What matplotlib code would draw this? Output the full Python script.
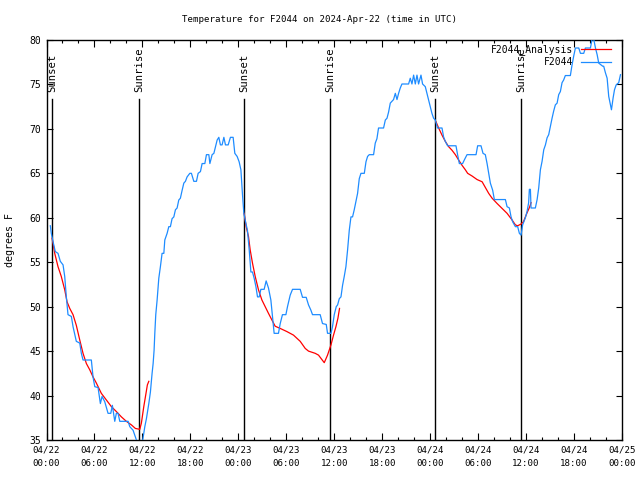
import matplotlib
matplotlib.use("Agg")
import matplotlib.pyplot as plt

# hours since 2024-04-22 00:00 UTC
obs_hours = [0.48, 0.60, 0.82, 1.10, 1.44, 1.73, 2.07, 2.28, 2.48, 2.69, 3.11, 3.32, 3.73, 4.16,
             4.36, 4.57, 5.61, 5.82, 6.04, 6.45, 6.74, 6.95, 7.29, 7.70, 8.04, 8.24, 8.54, 8.74,
             8.95, 9.17, 10.21, 10.42, 10.83, 11.24, 11.44, 11.84, 12.04, 12.30, 12.50, 12.80,
             13.00, 13.21, 13.34, 13.46, 13.55, 13.67, 13.84, 14.05, 14.25, 14.46, 14.68, 14.80,
             15.09, 15.30, 15.50, 15.71, 15.93, 16.13, 16.34, 16.55, 16.75, 16.97, 17.18, 17.38,
             17.59, 17.93, 18.13, 18.43, 18.76, 18.97, 19.26, 19.47, 19.81, 20.01, 20.31, 20.44,
             20.72, 20.94, 21.14, 21.35, 21.56, 21.76, 21.97, 22.19, 22.39, 22.73, 23.01, 23.35,
             23.56, 23.85, 24.10, 24.32, 24.52, 24.69, 24.94, 25.14, 25.36, 25.57, 25.77, 25.98,
             26.20, 26.40, 26.61, 26.82, 27.23, 27.48, 27.77, 28.07, 28.27, 28.48, 29.02, 29.24,
             29.52, 29.95, 30.15, 30.49, 30.78, 31.74, 32.03, 32.49, 32.78, 33.08, 33.28, 34.24,
             34.53, 35.00, 35.16, 35.59, 35.78, 36.00, 36.25, 36.42, 36.63, 36.84, 37.04, 37.25,
             37.46, 37.67, 37.88, 38.09, 38.29, 38.50, 38.71, 38.92, 39.13, 39.34, 39.76, 39.97,
             40.17, 40.38, 40.92, 41.13, 41.34, 41.54, 42.17, 42.39, 42.60, 42.80, 43.01, 43.42,
             43.64, 43.85, 44.05, 44.26, 44.47, 45.30, 45.51, 45.72, 45.93, 46.14, 46.35, 46.55,
             46.85, 47.05, 47.39, 47.60, 47.80, 48.01, 48.22, 48.43, 48.64, 48.92, 49.48, 49.68,
             49.89, 50.18, 51.23, 51.43, 51.65, 52.06, 52.27, 52.61, 53.74, 53.94, 54.36, 54.61,
             54.90, 55.12, 55.32, 55.53, 55.82, 56.03, 57.41, 57.62, 57.91, 58.12, 58.32, 58.66,
             58.95, 59.16, 59.37, 59.57, 59.91, 60.12, 60.32, 60.41, 60.54, 60.62, 61.16, 61.38,
             61.58, 61.79, 62.00, 62.21, 62.42, 62.63, 62.83, 63.04, 63.25, 63.45, 63.66, 63.88,
             64.08, 64.29, 64.50, 64.70, 64.91, 65.54, 65.75, 65.96, 66.17, 66.59, 66.80, 67.21,
             67.42, 68.05, 68.26, 68.46, 68.68, 68.89, 69.09, 69.59, 69.71, 69.93, 70.14, 70.34,
             70.55, 70.68, 70.89, 71.06, 71.27, 71.59, 71.81]
obs_temp = [59.1, 58.25, 57.3, 56.2, 56.0, 55.1, 54.7, 53.4, 51.1, 49.1, 48.9, 47.75, 46.1, 45.9,
            44.75, 44.0, 44.0, 42.1, 41.0, 40.9, 39.1, 39.9, 39.3, 38.0, 38.0, 38.9, 37.1, 38.0,
            38.0, 37.1, 37.1, 36.5, 36.1, 35.0, 34.5, 34.5, 35.0, 36.5, 37.4, 39.1,
            40.4, 42.5, 43.6, 45.1, 47.0, 49.1, 50.75, 53.2, 54.5, 56.0, 56.0, 57.5,
            58.25, 59.0, 59.0, 59.9, 60.1, 60.9, 61.1, 62.0, 62.2, 63.1, 63.9, 64.1,
            64.6, 65.0, 65.0, 64.1, 64.1, 65.0, 65.2, 66.1, 66.1, 67.1, 67.1, 66.1,
            67.1, 67.25, 68.0, 68.75, 69.05, 68.2, 68.2, 69.05, 68.2, 68.2, 69.05, 69.05,
            67.25, 66.9, 66.3, 65.4, 62.6, 60.5, 59.4, 58.6, 56.4, 53.9, 53.9, 53.2,
            52.25, 51.1, 51.1, 51.95, 51.95, 52.9, 52.1, 50.75, 48.9, 47.0, 47.0, 48.1,
            49.1, 49.1, 50.0, 51.3, 51.95, 51.95, 51.05, 51.05, 50.2, 49.6, 49.1, 49.1,
            48.1, 48.0, 47.0, 47.0, 47.75, 49.1, 50.0, 50.2, 50.9, 51.1, 52.4, 53.4,
            54.5, 56.4, 58.6, 60.1, 60.1, 60.9, 61.8, 62.75, 64.4, 65.0, 65.0, 66.3,
            66.9, 67.1, 67.1, 68.4, 68.9, 70.1, 70.1, 71.0, 71.2, 71.9, 72.9, 73.3,
            74.0, 73.3, 74.0, 74.6, 75.05, 75.05, 75.7, 75.05, 76.05, 75.05, 76.05, 75.05,
            76.05, 75.05, 74.75, 74.0, 73.25, 72.5, 71.75, 71.2, 71.0, 70.1, 70.1, 69.1,
            68.6, 68.1, 68.1, 67.1, 66.1, 66.1, 66.5, 67.1, 67.1, 68.1, 68.1, 67.25,
            67.1, 66.1, 65.0, 63.9, 63.1, 62.05, 62.05, 61.25, 61.1, 60.1, 59.55, 59.0,
            59.0, 58.25, 58.05, 59.2, 60.0, 60.7, 61.7, 63.2, 63.2, 61.1, 61.1, 62.05,
            63.35, 65.4, 66.35, 67.65, 68.2, 69.0, 69.35, 70.3, 71.2, 72.0, 72.7, 72.9,
            73.85, 74.2, 75.2, 75.5, 76.0, 76.0, 77.2, 78.2, 79.1, 79.1, 78.5, 78.5,
            79.1, 79.1, 80.1, 80.1, 79.1, 78.35, 77.4, 77.05, 77.05, 76.3, 75.7, 73.65,
            72.7, 72.15, 73.5, 74.4, 74.95, 75.2, 76.1]

# analysis curves, one per night
night1_hours = [0.69, 0.82, 1.03, 1.44, 1.85, 2.28, 2.57, 2.91, 3.32, 3.73, 4.16, 4.57, 4.99, 5.41,
                5.82, 6.24, 6.86, 7.49, 8.12, 8.74, 9.37, 9.99, 10.62, 11.12, 11.67, 11.87, 12.17,
                12.42, 12.62, 12.80]
night1_temp = [57.7, 57.1, 56.0, 54.5, 53.4, 51.9, 50.55, 49.8, 49.1, 47.9, 46.25, 44.75, 43.6, 42.9,
               42.1, 41.4, 40.25, 39.5, 38.75, 38.2, 37.6, 37.1, 36.7, 36.3, 36.2, 36.9, 38.75,
               40.1, 41.2, 41.6]
night2_hours = [24.73, 24.98, 25.27, 25.48, 25.77, 26.11, 26.52, 26.95, 27.36, 27.77, 28.20, 28.61,
                29.24, 30.07, 30.90, 31.74, 32.37, 32.78, 33.62, 34.03, 34.75, 35.16, 35.59, 35.91,
                36.21, 36.46, 36.66]
night2_temp = [60.5, 59.0, 57.9, 56.4, 54.9, 53.4, 51.9, 50.75, 50.0, 49.25, 48.5, 47.8,
               47.55, 47.2, 46.8, 46.1, 45.3, 45.0, 44.75, 44.55, 43.7, 44.55, 45.7, 46.8,
               47.75, 48.7, 49.8]
night3_hours = [48.73, 49.06, 49.48, 49.89, 50.31, 50.73, 51.15, 51.56, 51.99, 52.40, 52.69, 53.24,
                53.87, 54.50, 54.91, 55.32, 55.75, 56.38, 57.00, 57.62, 58.25, 58.66, 58.95, 59.37,
                59.67, 60.09, 60.44, 60.62]
night3_temp = [70.8, 70.1, 69.3, 68.6, 68.0, 67.6, 67.1, 66.5, 65.9, 65.4, 65.0, 64.7,
               64.3, 64.05, 63.4, 62.75, 62.2, 61.6, 61.05, 60.5, 59.75, 59.2, 59.1, 59.3,
               59.55, 60.5, 61.2, 61.7]

sun_hours = [0.73, 11.61, 24.75, 35.5, 48.64, 59.4]
sun_names = ["Sunset", "Sunrise", "Sunset", "Sunrise", "Sunset", "Sunrise"]

tick_hours = list(range(0, 73, 6))
tick_labels = ["04/22\n00:00", "04/22\n06:00", "04/22\n12:00", "04/22\n18:00",
               "04/23\n00:00", "04/23\n06:00", "04/23\n12:00", "04/23\n18:00",
               "04/24\n00:00", "04/24\n06:00", "04/24\n12:00", "04/24\n18:00",
               "04/25\n00:00"]

plt.rcParams['font.family'] = ['DejaVu Sans Mono']
fs = 6.6

fig = plt.figure(figsize=(6.4, 4.8), dpi=100)
ax = fig.add_axes([46.5 / 640, 40 / 480, 575.5 / 640, 400 / 480])

for h, name in zip(sun_hours, sun_names):
    ax.plot([h, h], [35, 73.4], color='black', lw=1.0, zorder=1)
    ax.text(h, 74.1, name, rotation=90, ha='center', va='bottom', fontsize=7.6)

red = '#ff0000'
blue = '#1e8cff'
ax.plot(night1_hours, night1_temp, color=red, lw=0.9, label='F2044_Analysis', zorder=2)
ax.plot(night2_hours, night2_temp, color=red, lw=0.9, zorder=2)
ax.plot(night3_hours, night3_temp, color=red, lw=0.9, zorder=2)
ax.plot(obs_hours, obs_temp, color=blue, lw=0.9, label='F2044', zorder=3)

ax.set_xlim(0, 72)
ax.set_ylim(35, 80)
ax.set_xticks(tick_hours)
ax.set_xticklabels(tick_labels, fontsize=fs, linespacing=1.6)
ax.set_xticks(range(0, 73, 2), minor=True)
ax.set_yticks(range(35, 81, 5))
ax.tick_params(axis='both', which='both', direction='in', top=True, right=True, width=0.8)
ax.tick_params(axis='x', which='major', length=5, pad=4)
ax.tick_params(axis='x', which='minor', length=2.5)
ax.tick_params(axis='y', which='major', length=4, pad=4, labelsize=fs + 0.4)
for s in ax.spines.values():
    s.set_linewidth(1.0)

leg = ax.legend(loc='upper right', bbox_to_anchor=(1 - 11 / 575.5, 1 - 4 / 400),
                frameon=False, markerfirst=False, fontsize=fs + 0.4, handlelength=3.1,
                handletextpad=0.8, labelspacing=0.25, borderpad=0, borderaxespad=0)

fig.text(0.5, 1 - 19 / 480, 'Temperature for F2044 on 2024-Apr-22 (time in UTC)',
         ha='center', va='center', fontsize=fs)
fig.text(10 / 640, 0.5, 'degrees F', rotation=90, ha='center', va='center', fontsize=fs + 0.6)

fig.savefig('out.png', dpi=100)
